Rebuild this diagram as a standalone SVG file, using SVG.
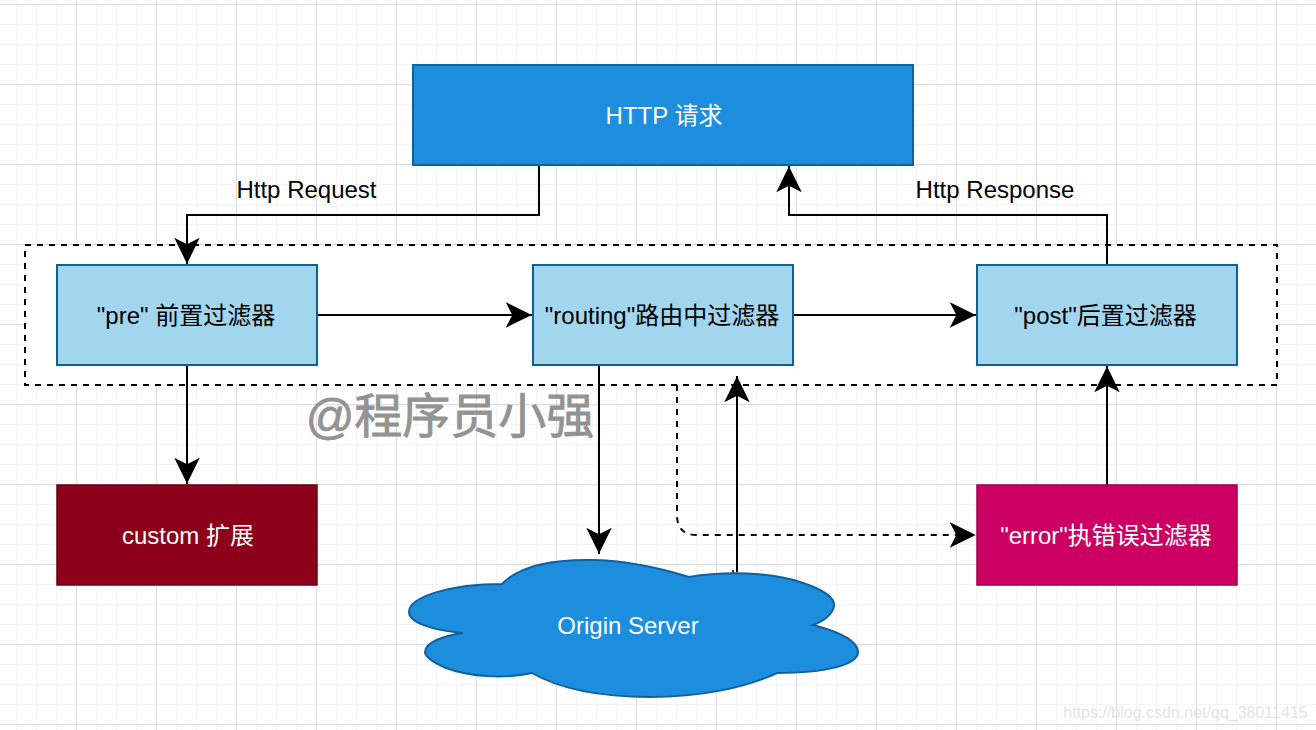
<svg xmlns="http://www.w3.org/2000/svg" width="1316" height="730" viewBox="0 0 1316 730">
<style>
text{font-family:"Liberation Sans","Noto Sans CJK SC",sans-serif;font-size:24px;text-anchor:middle}
.w{fill:#fff}.k{fill:#000}
.c{fill:none;stroke:#000;stroke-width:2}
.b{fill:#1d8ddd;stroke:#10609e;stroke-width:2}
.l{fill:#a2d5ee;stroke:#10618f;stroke-width:2}
</style>
<defs>
<pattern id="minor" width="20" height="20" patternUnits="userSpaceOnUse" x="-4" y="4">
<path d="M0.5 0V20M0 0.5H20" fill="none" stroke="#f5f5f5" stroke-width="1.5"/>
</pattern>
<pattern id="major" width="80" height="80" patternUnits="userSpaceOnUse" x="76" y="4">
<path d="M0.5 0V80M0 0.5H80" fill="none" stroke="#dcdcdc" stroke-width="1"/>
</pattern>
<marker id="arrow" viewBox="0 0 28 28" refX="27" refY="14" markerWidth="28" markerHeight="28" markerUnits="userSpaceOnUse" orient="auto">
<path d="M3 3.500L24.500 14L3 24.500L8.500 14Z" fill="#000" stroke="#000" stroke-width="2" stroke-miterlimit="8"/>
</marker>
</defs>
<rect width="1316" height="730" fill="#fff"/>
<rect width="1316" height="730" fill="url(#minor)"/>
<rect width="1316" height="730" fill="url(#major)"/>
<g id="boundary"><rect x="25" y="245" width="1252" height="140" fill="#fff" stroke="#000" stroke-width="2" stroke-dasharray="6 6"/></g>
<g id="connectors">
<path class="c" d="M539 165V215H187V264" marker-end="url(#arrow)"/>
<path class="c" d="M1107 265V215H789V166" marker-end="url(#arrow)"/>
<path class="c" d="M317 315H532" marker-end="url(#arrow)"/>
<path class="c" d="M793 315H976" marker-end="url(#arrow)"/>
<path class="c" d="M187 365V484" marker-end="url(#arrow)"/>
<path class="c" d="M599 365V554" marker-end="url(#arrow)"/>
<path class="c" d="M737 572V376" marker-end="url(#arrow)"/>
<path class="c" d="M677 385V515Q677 535 697 535H976" stroke-dasharray="6 6" marker-end="url(#arrow)"/>
<path class="c" d="M1107 485V366" marker-end="url(#arrow)"/>
<path d="M733 574V570" fill="none" stroke="#000" stroke-width="1.500"/>
</g>
<g id="http"><rect class="b" x="413" y="65" width="500" height="100"/><text class="w" x="664" y="124">HTTP 请求</text></g>
<g id="pre"><rect class="l" x="57" y="265" width="260" height="100"/><text class="k" x="186" y="324">"pre" 前置过滤器</text></g>
<g id="routing"><rect class="l" x="533" y="265" width="260" height="100"/><text class="k" x="662" y="324">"routing"路由中过滤器</text></g>
<g id="post"><rect class="l" x="977" y="265" width="260" height="100"/><text class="k" x="1105.500" y="324">"post"后置过滤器</text></g>
<g id="custom"><rect x="57" y="485" width="260" height="100" fill="#8c0019" stroke="#6a0012" stroke-width="1.500"/><text class="w" x="188" y="544">custom 扩展</text></g>
<g id="error"><rect x="977" y="485" width="260" height="100" fill="#cb0062" stroke="#a3004e" stroke-width="1.500"/><text class="w" x="1106" y="544">"error"执错误过滤器</text></g>
<g id="origin">
<path class="b" d="M502 584C520 565 555 559 595 560C630 561 660 568 689 577C725 571 770 572 800 582C822 589 835 597 834 606C833 614 824 621 813 625C840 632 858 641 858 652C858 665 825 673 777 673C745 688 700 697 650 697C600 697 560 689 532 673C505 679 470 677 446 668C432 662 425 657 425 652C425 643 442 636 463 633C430 630 409 622 409 612C409 597 450 584 502 584Z"/>
<text class="w" x="628" y="634">Origin Server</text>
</g>
<text class="k" x="306.500" y="198">Http Request</text>
<text class="k" x="995" y="198">Http Response</text>
<text x="450" y="433" style="font-size:48px;fill:#939393;stroke:#939393;stroke-width:.8">@程序员小强</text>
<text x="1185.500" y="718" style="font-size:16px;fill:#e4e4e4">https://blog.csdn.net/qq_38011415</text>
</svg>
